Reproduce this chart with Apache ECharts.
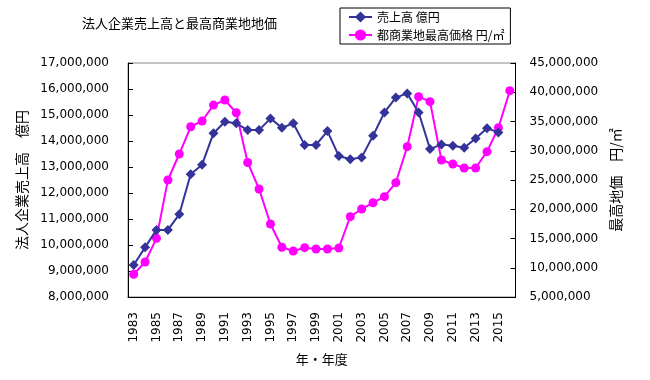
<!DOCTYPE html>
<html><head><meta charset="utf-8">
<script src="https://cdn.jsdelivr.net/npm/echarts@6/dist/echarts.min.js"></script>
<style>html,body{margin:0;padding:0;background:#fff}#c{width:650px;height:380px}</style>
</head><body><div id="c"></div>
<script>
const years = ['1983','1984','1985','1986','1987','1988','1989','1990','1991','1992','1993','1994','1995','1996','1997','1998','1999','2000','2001','2002','2003','2004','2005','2006','2007','2008','2009','2010','2011','2012','2013','2014','2015','2016'];
const sales = [9230000,9910000,10580000,10580000,11180000,12720000,13090000,14300000,14740000,14680000,14420000,14420000,14870000,14510000,14680000,13850000,13850000,14380000,13420000,13300000,13370000,14200000,15100000,15670000,15830000,15100000,13690000,13870000,13820000,13740000,14100000,14490000,14330000];
const land = [8880000,10980000,15030000,25000000,29440000,34100000,35090000,37800000,38680000,36500000,28000000,23460000,17480000,13500000,12860000,13430000,13200000,13200000,13380000,18730000,20040000,21120000,22150000,24540000,30700000,39240000,38390000,28420000,27740000,27050000,27050000,29840000,33940000,40270000];
const leftTicks = {min: 8000000, max: 17000000, interval: 1000000};
const rightTicks = {min: 5000000, max: 45000000, interval: 5000000};

const FONT = 'DejaVu Sans, "Noto Sans CJK JP", sans-serif';
const JFONT = '"Noto Sans CJK JP", sans-serif';
const fmt = v => String(v).replace(/\B(?=(\d{3})+(?!\d))/g, ',');
const chart = echarts.init(document.getElementById('c'));
chart.setOption({
  animation: false,
  title: {text: '法人企業売上高と最高商業地地価', left: 82, top: 17, padding: 0,
    textStyle: {fontFamily: JFONT, fontSize: 13, fontWeight: 'normal', color: '#000'}},
  legend: {left: 340, top: 8, orient: 'vertical', borderColor: '#000', borderWidth: 1,
    padding: [3, 6, 3, 8], itemWidth: 23, itemHeight: 14, itemGap: 6,
    textStyle: {fontFamily: JFONT, fontSize: 12, color: '#000'},
    data: ['売上高 億円', '都商業地最高価格 円/㎡']},
  grid: {left: 128, right: 134.5, top: 63, bottom: 83, show: true, borderColor: '#888', borderWidth: 1},
  xAxis: {type: 'category', data: years, boundaryGap: true,
    name: '年・年度', nameLocation: 'middle', nameGap: 56,
    nameTextStyle: {fontFamily: JFONT, fontSize: 13, color: '#000'},
    axisLine: {lineStyle: {color: '#000', width: 1}},
    axisTick: {inside: true, length: 5, interval: 0, lineStyle: {color: '#000'}},
    axisLabel: {rotate: 90, interval: 1, margin: 15, fontFamily: FONT, fontSize: 12, color: '#000'},
    splitLine: {show: false}},
  yAxis: [
    {type: 'value', min: leftTicks.min, max: leftTicks.max, interval: leftTicks.interval,
      name: '法人企業売上高　億円', nameLocation: 'middle', nameGap: 99, nameRotate: 90,
      nameTextStyle: {fontFamily: JFONT, fontSize: 14, color: '#000'},
      axisLine: {show: true, lineStyle: {color: '#000'}},
      axisTick: {show: true, inside: true, length: 5, lineStyle: {color: '#000'}},
      axisLabel: {margin: 19, fontFamily: FONT, fontSize: 12, color: '#000', formatter: fmt},
      splitLine: {show: false}},
    {type: 'value', min: rightTicks.min, max: rightTicks.max, interval: rightTicks.interval,
      name: '最高地価　円/㎡', nameLocation: 'middle', nameGap: 93, nameRotate: 90,
      nameTextStyle: {fontFamily: JFONT, fontSize: 14, color: '#000'},
      axisLine: {show: true, lineStyle: {color: '#000'}},
      axisTick: {show: true, inside: true, length: 5, lineStyle: {color: '#000'}},
      axisLabel: {margin: 14, fontFamily: FONT, fontSize: 12, color: '#000', formatter: fmt},
      splitLine: {show: false}}
  ],
  series: [
    {name: '売上高 億円', type: 'line', yAxisIndex: 0, data: sales,
      symbol: 'diamond', symbolSize: 10, showAllSymbol: true,
      lineStyle: {color: '#333399', width: 2}, itemStyle: {color: '#333399'}, z: 3},
    {name: '都商業地最高価格 円/㎡', type: 'line', yAxisIndex: 1, data: land,
      symbol: 'circle', symbolSize: 9, showAllSymbol: true,
      lineStyle: {color: '#FF00FF', width: 2}, itemStyle: {color: '#FF00FF'}, z: 2}
  ]
});
</script></body></html>
